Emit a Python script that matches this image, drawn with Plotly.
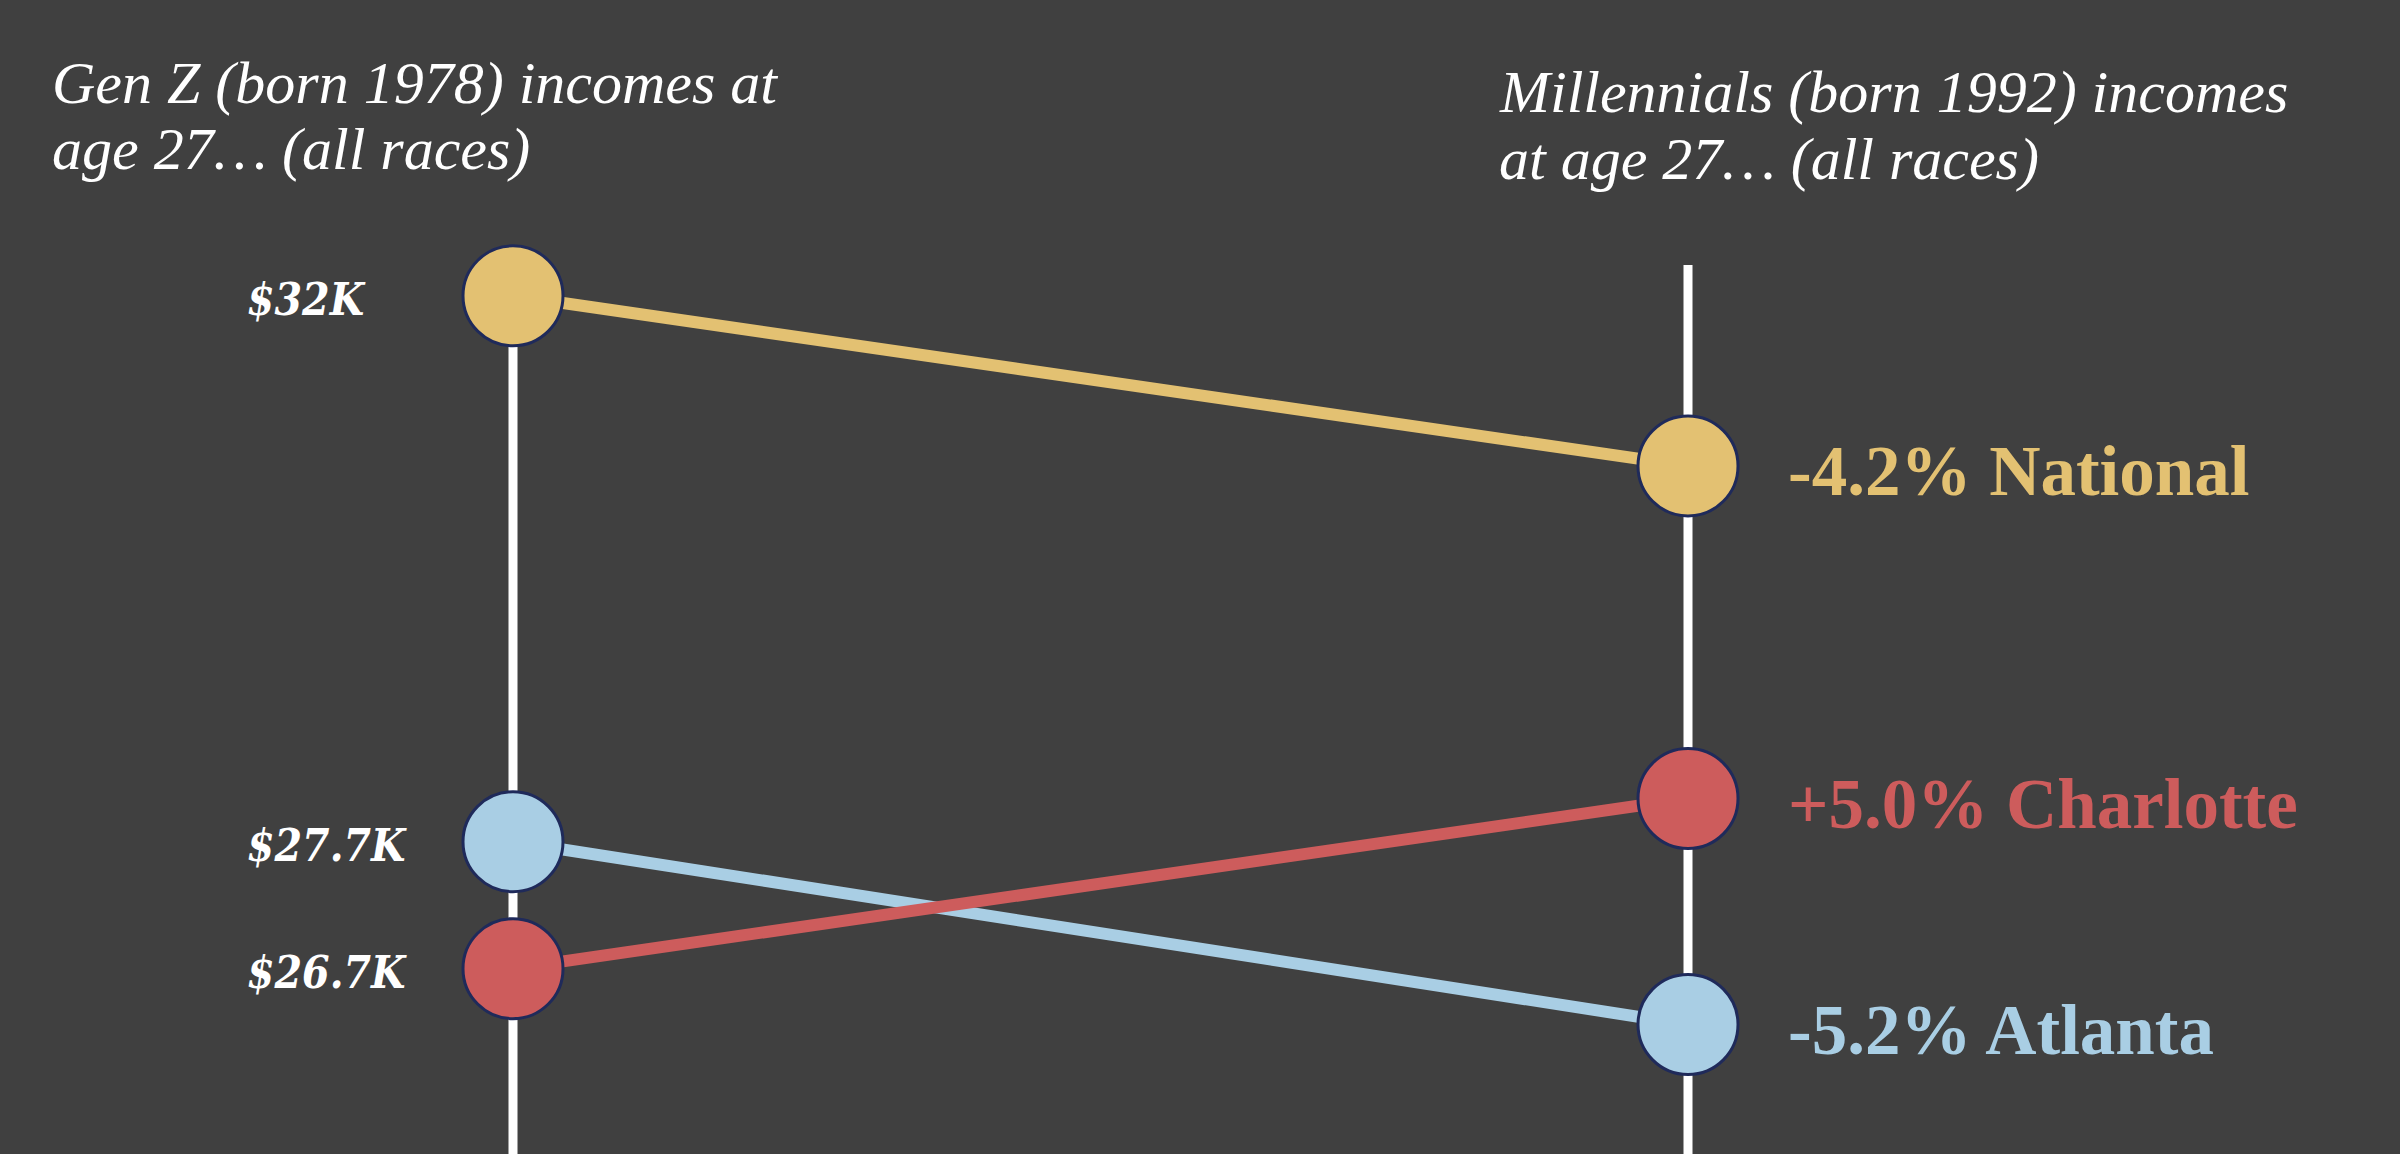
import plotly.graph_objects as go

# ---- data ----
regions = ["National", "Atlanta", "Charlotte"]
genz_income_k = [32.0, 27.7, 26.7]          # born 1978, at age 27
millennial_income_k = [30.66, 26.26, 28.04]  # born 1992, at age 27
pct_change = ["-4.2%", "-5.2%", "+5.0%"]
left_labels = ["$32K", "$27.7K", "$26.7K"]
colors = ["#E3C172", "#A9CEE4", "#CD5C5C"]
cohorts = [0, 1]
title_left = ["Gen Z (born 1978) incomes at", "age 27… (all races)"]
title_right = ["Millennials (born 1992) incomes", "at age 27… (all races)"]

BG = "#404040"
OUTLINE = "#1F2A5A"
W, H = 2400, 1154

fig = go.Figure()

# connecting lines
for i, r in enumerate(regions):
    fig.add_trace(go.Scatter(
        x=cohorts, y=[genz_income_k[i], millennial_income_k[i]],
        mode="lines", line=dict(color=colors[i], width=12),
        hoverinfo="skip", showlegend=False))

# circles
for i, r in enumerate(regions):
    fig.add_trace(go.Scatter(
        x=cohorts, y=[genz_income_k[i], millennial_income_k[i]],
        mode="markers",
        marker=dict(size=100, color=colors[i], line=dict(color=OUTLINE, width=3)),
        name=r, showlegend=False))

# vertical axis lines (drawn below traces)
fig.add_shape(type="line", xref="x", yref="y", x0=cohorts[0], x1=cohorts[0],
              y0=genz_income_k[0], y1=0, layer="below",
              line=dict(color="white", width=9))
fig.add_shape(type="line", xref="x", yref="paper", x0=cohorts[1], x1=cohorts[1],
              y0=1 - 265 / H, y1=-0.05, layer="below",
              line=dict(color="white", width=9))

# left value labels
for i, lab in enumerate(left_labels):
    fig.add_annotation(x=245 / W, xref="paper", y=genz_income_k[i], yref="y",
                       text=f"<b><i>{lab}</i></b>", showarrow=False,
                       xanchor="left", yanchor="middle", yshift=-4,
                       font=dict(family="DejaVu Serif Condensed, DejaVu Serif, serif",
                                 size=44, color="white"))

# right labels
for i, r in enumerate(regions):
    fig.add_annotation(x=1786 / W, xref="paper", y=millennial_income_k[i], yref="y",
                       text=f"<b>{pct_change[i]} {r}</b>", showarrow=False,
                       xanchor="left", yanchor="middle", yshift=-5,
                       font=dict(family="Liberation Serif, serif", size=71, color=colors[i]))

# titles (one annotation per line for tighter line spacing)
title_font = dict(family="Liberation Serif, serif", size=60, color="white")
for k, line in enumerate(title_left):
    fig.add_annotation(x=50 / W, xref="paper", y=1 - (48 + 66 * k) / H, yref="paper",
                       text=f"<i>{line}</i>", showarrow=False, align="left",
                       xanchor="left", yanchor="top", font=title_font)
for k, line in enumerate(title_right):
    fig.add_annotation(x=1497 / W, xref="paper", y=1 - (57 + 67 * k) / H, yref="paper",
                       text=f"<i>{line}</i>", showarrow=False, align="left",
                       xanchor="left", yanchor="top", font=title_font)

x_span = 1688 - 513
fig.update_layout(
    width=W, height=H,
    paper_bgcolor=BG, plot_bgcolor=BG,
    margin=dict(l=0, r=0, t=0, b=0),
    xaxis=dict(range=[-513 / x_span, 1 + (W - 1688) / x_span], visible=False, fixedrange=True),
    yaxis=dict(range=[25.24, 34.33], visible=False, fixedrange=True),
    showlegend=False,
)

fig.write_html(
    "out.html",
    config={"displayModeBar": False},
    post_script="document.body.style.margin='0';document.body.style.overflow='hidden';"
                "document.body.style.backgroundColor='#404040';",
)
